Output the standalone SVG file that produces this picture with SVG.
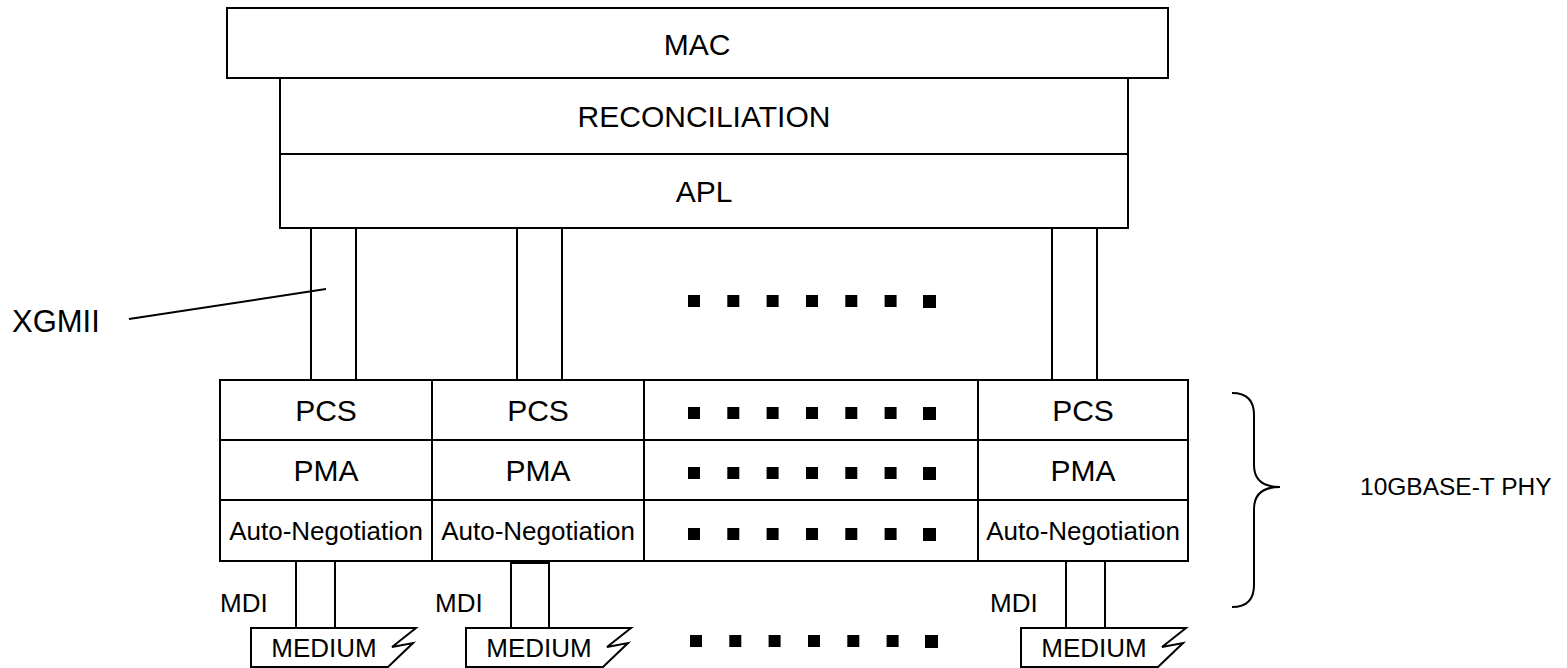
<svg xmlns="http://www.w3.org/2000/svg" width="1567" height="668" viewBox="0 0 1567 668">
<style>
.b{fill:#fff;stroke:#000;stroke-width:2}
.l{fill:none;stroke:#000;stroke-width:2}
.t{font-family:"Liberation Sans",Arial,sans-serif;font-size:30px;fill:#000;text-anchor:middle}
.s{font-family:"Liberation Sans",Arial,sans-serif;font-size:26px;fill:#000;text-anchor:middle}
.sl{font-family:"Liberation Sans",Arial,sans-serif;font-size:26px;fill:#000}
.d{fill:#000}
</style>
<defs>
<g id="dots">
<rect class="d" x="0" y="0" width="12" height="12"/>
<rect class="d" x="39.3" y="0" width="12" height="12"/>
<rect class="d" x="78.6" y="0" width="12" height="12"/>
<rect class="d" x="118" y="0" width="12" height="12"/>
<rect class="d" x="157.3" y="0" width="12" height="12"/>
<rect class="d" x="196.6" y="0" width="12" height="12"/>
<rect class="d" x="235" y="0" width="13" height="13"/>
</g>
</defs>
<rect width="1567" height="668" fill="#fff"/>

<g id="xgmii-tubes">
<rect class="b" x="311" y="228" width="45" height="152"/>
<rect class="b" x="517" y="228" width="45" height="152"/>
<rect class="b" x="1052" y="228" width="45" height="152"/>
</g>

<g id="mac"><rect class="b" x="227" y="8" width="941" height="70"/><text class="t" x="697" y="55">MAC</text></g>
<g id="reconciliation"><rect class="b" x="280" y="78" width="848" height="76"/><text class="t" x="704" y="127">RECONCILIATION</text></g>
<g id="apl"><rect class="b" x="280" y="154" width="848" height="74"/><text class="t" x="704" y="202">APL</text></g>

<g id="phy-grid">
<rect class="b" x="220" y="380" width="968" height="181"/>
<line class="l" x1="220" y1="440" x2="1188" y2="440"/>
<line class="l" x1="220" y1="500" x2="1188" y2="500"/>
<line class="l" x1="432" y1="380" x2="432" y2="561"/>
<line class="l" x1="644" y1="380" x2="644" y2="561"/>
<line class="l" x1="978" y1="380" x2="978" y2="561"/>
</g>
<g id="phy1">
<text class="t" x="326" y="421">PCS</text>
<text class="t" x="326" y="481">PMA</text>
<text class="s" x="326" y="540">Auto-Negotiation</text>
</g>
<g id="phy2">
<text class="t" x="538" y="421">PCS</text>
<text class="t" x="538" y="481">PMA</text>
<text class="s" x="538" y="540">Auto-Negotiation</text>
</g>
<g id="phy-n">
<text class="t" x="1083" y="421">PCS</text>
<text class="t" x="1083" y="481">PMA</text>
<text class="s" x="1083" y="540">Auto-Negotiation</text>
</g>

<g id="ellipses">
<use href="#dots" x="688" y="295"/>
<use href="#dots" x="688" y="407"/>
<use href="#dots" x="688" y="467"/>
<use href="#dots" x="688" y="528"/>
<use href="#dots" x="690" y="635"/>
</g>

<g id="mdi1">
<rect class="b" x="296" y="561" width="39" height="67"/>
<text class="sl" x="220" y="612">MDI</text>
</g>
<g id="mdi2">
<rect class="b" x="511" y="563" width="38" height="65"/>
<text class="sl" x="435" y="612">MDI</text>
</g>
<g id="mdi3">
<rect class="b" x="1066" y="561" width="39" height="67"/>
<text class="sl" x="990" y="612">MDI</text>
</g>

<g id="medium1">
<path class="b" d="M251,628 L416,628 L392,647 L413,643 L388,667 L251,667 Z"/>
<text class="s" x="324" y="657">MEDIUM</text>
</g>
<g id="medium2">
<path class="b" d="M466,628 L631,628 L607,647 L628,643 L603,667 L466,667 Z"/>
<text class="s" x="539" y="657">MEDIUM</text>
</g>
<g id="medium3">
<path class="b" d="M1021,628 L1186,628 L1162,647 L1183,643 L1158,667 L1021,667 Z"/>
<text class="s" x="1094" y="657">MEDIUM</text>
</g>

<g id="xgmii-label"><text class="sl" x="12" y="332" style="font-size:31px">XGMII</text></g>
<g id="phy-label"><text class="sl" x="1360" y="495" style="font-size:24.5px">10GBASE-T PHY</text></g>

<g id="connectors">
<line class="l" x1="129" y1="319" x2="326" y2="289"/>
<path class="l" d="M1232,393 Q1254,393 1254,415 L1254,465 Q1254,487 1280,487 Q1254,487 1254,509 L1254,585 Q1254,607 1232,607"/>
</g>
</svg>
